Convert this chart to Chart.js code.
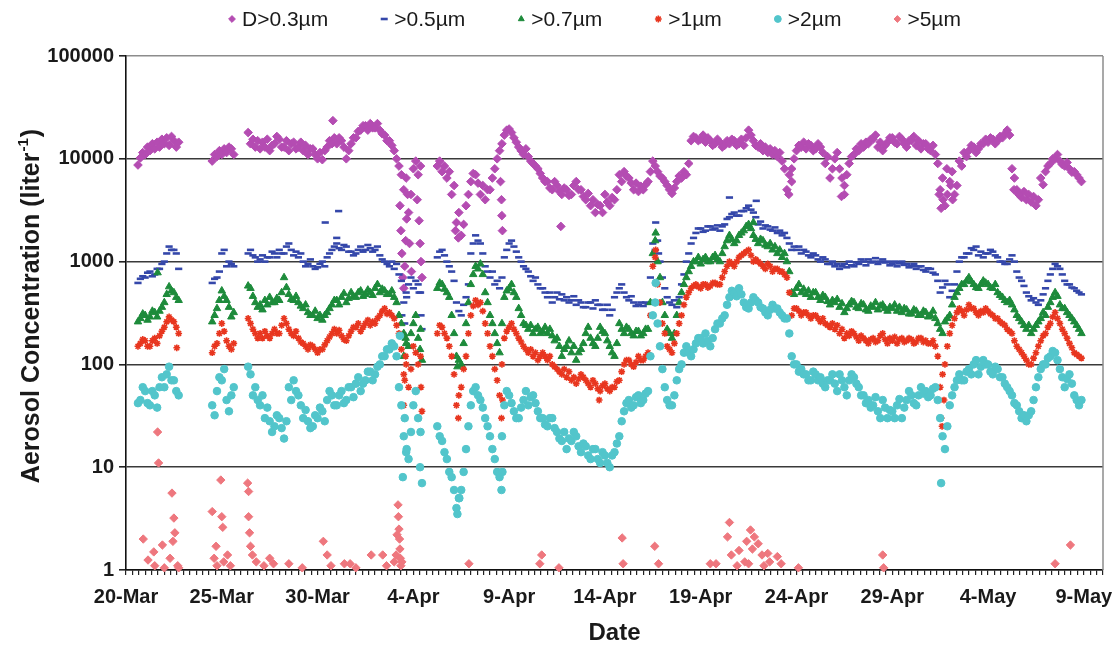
<!DOCTYPE html>
<html>
<head>
<meta charset="utf-8">
<title>Aerosol Concentration</title>
<script src="https://cdn.jsdelivr.net/npm/chart.js@4.4.1/dist/chart.umd.min.js"></script>
<style>
  html, body { margin: 0; padding: 0; background: #fff; }
  #contenedor { width: 1116px; height: 649px; }
</style>
</head>
<body>
<div id="contenedor"><canvas id="grafico" width="1116" height="649"></canvas></div>
<script>
// ==================== DATOS ====================

// Muestreo de las series: cada 3 horas (8 valores por día) desde el 20-Mar 00:00
const PASO_DIAS = 0.125;

// Eje X: días desde el 20-Mar y su etiqueta
const diasEtiqueta = [0, 5, 10, 15, 20, 25, 30, 35, 40, 45, 50];
const fechasEtiqueta = ['20-Mar', '25-Mar', '30-Mar', '4-Apr', '9-Apr', '14-Apr', '19-Apr', '24-Apr', '29-Apr', '4-May', '9-May'];

// Eje Y logarítmico
const decadasY = [1, 10, 100, 1000, 10000, 100000];

const nombresSeries = ['D>0.3µm', '>0.5µm', '>0.7µm', '>1µm', '>2µm', '>5µm'];

// Concentraciones (liter^-1), una fila por día
const conc03 = [
  // 20-Mar
  null, null, null, null, null, 8700, 10200, 11500,
  11000, 13000, 12000, 14000, 12500, 14500, 13000, 15500,
  14000, 16000, 13500, 16500, 15000, 13000, 14500, null,
  null, null, null, null, null, null, null, null,
  null, null, null, null, 9500, 11000, 10500, 12000,
  // 25-Mar
  11000, 12500, 11500, 13000, 12500, 11000, null, null,
  null, null, null, 18000, 14000, 15500, 13000, 15000,
  12500, 14500, 13000, 15500, 12000, 13500, 14000, 16500,
  15500, 13000, 13000, 15000, 12000, 14000, 14500, 12500,
  13000, 14500, 12000, 13500, 11000, 12500, 12500, 11000,
  // 30-Mar
  10000, 11500, 9800, 12000, 13000, 15000, 14000, 16000,
  14000, 16000, 15000, 13000, 10000, 12000, 14000, 16000,
  16000, 18500, 19000, 21000, 21000, 19000, 22000, 20000,
  20000, 22000, 19000, 17500, 17000, 15000, 15000, 13500,
  12000, 10000, 8500, 7000, 5000, 6500, 3000, 4500,
  // 4-Apr
  8000, 9500, 7000, 8500, null, null, null, null,
  null, null, 8500, 9500, 7500, 8500, 6500, 7500,
  4500, 5500, 2400, 3000, 1800, 2300, 3500, 4500,
  6000, 7200, 7000, 5800, 4500, 5500, 4000, 5000,
  5000, 6500, 8000, 10000, 12000, 14000, 17000, 19000,
  // 9-Apr
  19500, 18000, 16000, 14500, 13000, 12000, 11000, 12500,
  10500, 9500, 9000, 8500, 8000, 7200, 6500, 6000,
  6000, 5200, 5000, 6000, 5500, 4800, 4500, 5200,
  5000, 4400, 4500, 5500, 6000, 5000, 5000, 4300,
  4000, 4600, 3500, 4000, 3000, 3600, 3500, 3000,
  // 14-Apr
  4500, 3800, 3500, 4200, 4000, 5000, 7000, 6000,
  7500, 6800, 6500, 5800, 5000, 5800, 4800, 5400,
  5000, 5600, 6000, 7500, 9500, 8500, 7500, 6800,
  6500, 6000, 5500, 5000, 4600, 5200, 6000, 6800,
  6500, 7500, 7000, 9000, 15000, 16500, 16000, 15000,
  // 19-Apr
  15500, 17000, 14500, 16000, 15000, 13500, 14000, 15500,
  14500, 13000, 13500, 15000, 14000, 15500, 15000, 13500,
  14000, 15500, 13500, 16000, 19000, 17000, 15000, 13500,
  13000, 14000, 12000, 13000, 11500, 12500, 11000, 12000,
  10500, 11500, 9500, 8000, 5000, 7000, 8000, 10000,
  // 24-Apr
  12000, 13500, 13000, 14500, 12500, 14000, 13500, 12000,
  12500, 14000, 13000, 11500, 9000, 10500, 6500, 8000,
  10000, 11500, 8000, 6500, 4500, 7000, 9000, 10500,
  11000, 12500, 12000, 14000, 13000, 14500, 14000, 15500,
  15500, 17000, 13000, 14500, 12000, 13500, 14500, 16000,
  // 29-Apr
  16000, 14500, 14000, 16500, 15500, 14000, 13000, 15000,
  15000, 16500, 13500, 15000, 12500, 14000, 14000, 12500,
  12000, 13500, 11000, 9000, 5000, 6500, 3500, 4500,
  6000, 7500, 4500, 5500, 9500, 8500, 11500, 10500,
  12000, 13500, 13000, 11500, 12500, 14000, 14000, 15500,
  // 4-May
  14500, 16000, 15500, 14000, 15000, 16500, 16000, 17500,
  19000, 17000, 8000, 6500, 5000, 4600, 4200, 4800,
  4000, 4500, 3800, 4300, 3500, 4000, 6500, 5600,
  7500, 8500, 9000, 10000, 10000, 11000, 9500, 8800,
  8500, 9200, 8000, 7400, 7500, 7000, 6500, 6000
];

const conc05 = [
  // 20-Mar
  null, null, null, null, null, 620, 680, 720,
  700, 780, 800, 720, 750, 850, 850, 950,
  1000, 1200, 1400, 1300, 1300, 1200, 850, null,
  null, null, null, null, null, null, null, null,
  null, null, null, null, 620, 680, 700, 800,
  // 25-Mar
  1200, 1300, 900, 1000, 950, 900, null, null,
  null, null, null, 1200, 1300, 1150, 1100, 1000,
  1050, 1150, 1000, 1100, 1100, 1250, 1200, 1100,
  1300, 1200, 1200, 1400, 1500, 1300, 1150, 1250,
  1100, 1200, 1000, 900, 950, 1050, 900, 850,
  // 30-Mar
  880, 950, 1000, 900, 1100, 1200, 1300, 1400,
  1500, 1350, 1300, 1450, 1400, 1250, 1250, 1150,
  1200, 1300, 1400, 1250, 1300, 1450, 1350, 1250,
  1300, 1400, 1150, 1050, 1000, 950, 900, 1000,
  850, 950, 750, 650, 400, 500, 600, 700,
  // 4-Apr
  550, 650, 600, 500, null, null, null, null,
  null, null, 1100, 1250, 1300, 1150, 1000, 900,
  800, 650, 400, 330, 300, 380, 450, 600,
  1200, 1500, 1800, 1600, 1500, 1200, 900, 800,
  700, 800, 600, 650, 550, 700, 1100, 1300,
  // 9-Apr
  1500, 1600, 1400, 1250, 1100, 1000, 900, 850,
  800, 720, 650, 700, 600, 550, 550, 500,
  450, 500, 400, 450, 500, 430, 480, 420,
  450, 400, 420, 460, 380, 420, 400, 360,
  360, 400, 400, 350, 420, 380, 380, 340,
  // 14-Apr
  340, 380, 300, 340, 450, 500, 550, 600,
  500, 450, 420, 460, 400, 370, 380, 400,
  370, 400, 390, 700, 1500, 1300, 1600, 1000,
  700, 550, 450, 400, 380, 420, 360, 450,
  600, 750, 1000, 1200, 1500, 1700, 1900, 2100,
  // 19-Apr
  2100, 1950, 2000, 2200, 2200, 2050, 2100, 2250,
  2000, 2200, 2300, 2600, 2700, 2900, 3000, 2800,
  2800, 3100, 3100, 3300, 3500, 3200, 3000, 2700,
  2300, 2450, 2100, 2250, 2200, 2050, 2000, 2150,
  1900, 2000, 1800, 1900, 1700, 1500, 1300, 1400,
  // 24-Apr
  1300, 1400, 1200, 1300, 1250, 1150, 1100, 1200,
  1150, 1050, 1000, 1100, 1050, 950, 950, 1000,
  900, 950, 850, 900, 950, 880, 1000, 920,
  900, 980, 950, 1050, 1000, 920, 1050, 980,
  1000, 1080, 950, 1000, 1050, 980, 1000, 920,
  // 29-Apr
  950, 1000, 900, 960, 1000, 930, 950, 880,
  900, 950, 850, 900, 900, 830, 800, 860,
  850, 780, 750, 650, 500, 560, 650, 600,
  450, 520, 600, 800, 1000, 1100, 1100, 1200,
  1200, 1350, 1300, 1400, 1150, 1250, 1100, 1200,
  // 4-May
  1200, 1300, 1250, 1150, 1100, 1000, 1000, 950,
  950, 1050, 1150, 1000, 800, 700, 650, 580,
  500, 460, 420, 440, 400, 380, 420, 480,
  550, 650, 750, 850, 950, 900, 850, 750,
  650, 600, 600, 560, 550, 520, 500, 480
];

const conc07 = [
  // 20-Mar
  null, null, null, null, null, 260, 280, 310,
  300, 270, 290, 330, 320, 290, 330, 360,
  400, 480, 570, 520, 500, 450, 420, null,
  null, null, null, null, null, null, null, null,
  null, null, null, null, 260, 300, 350, 420,
  // 25-Mar
  520, 460, 420, 360, 290, 320, null, null,
  null, null, null, 580, 550, 460, 400, 360,
  380, 340, 420, 380, 450, 400, 400, 440,
  420, 500, 700, 560, 480, 430, 420, 460,
  400, 370, 350, 380, 320, 300, 300, 330,
  // 30-Mar
  280, 300, 270, 300, 320, 350, 380, 420,
  420, 380, 450, 490, 400, 440, 500, 460,
  450, 500, 520, 460, 480, 530, 500, 470,
  550, 600, 500, 540, 520, 480, 480, 520,
  450, 400, 300, 250, 200, 160, 150, 200,
  // 4-Apr
  250, 300, 180, 220, null, null, null, null,
  null, null, 550, 620, 600, 540, 500, 450,
  300, 200, 120, 110, 100, 160, 250, 400,
  600, 750, 900, 850, 950, 750, 500, 400,
  300, 250, 200, 160, 130, 250, 450, 520,
  // 9-Apr
  550, 600, 500, 450, 350, 300, 250, 240,
  220, 240, 200, 220, 230, 200, 210, 230,
  200, 220, 190, 170, 180, 150, 120, 140,
  150, 170, 130, 150, 110, 130, 140, 160,
  200, 230, 180, 160, 150, 180, 230, 210,
  // 14-Apr
  200, 170, 150, 130, 120, 160, 250, 220,
  200, 230, 220, 200, 190, 210, 210, 190,
  200, 220, 220, 400, 1200, 1600, 1000, 700,
  400, 300, 220, 200, 180, 200, 300, 400,
  500, 600, 700, 800, 900, 1000, 1000, 1100,
  // 19-Apr
  950, 1050, 1100, 1000, 1000, 1100, 1150, 1050,
  1000, 1200, 1400, 1600, 1800, 1650, 1500, 1600,
  1800, 1900, 2000, 2200, 2300, 2100, 1800, 1650,
  1500, 1650, 1600, 1450, 1400, 1500, 1300, 1400,
  1200, 1300, 1100, 1200, 1000, 800, 500, 480,
  // 24-Apr
  550, 600, 500, 540, 480, 520, 450, 500,
  500, 450, 420, 470, 450, 410, 380, 420,
  400, 430, 360, 390, 320, 350, 380, 410,
  400, 360, 350, 390, 380, 340, 330, 370,
  360, 400, 340, 370, 380, 350, 330, 360,
  // 29-Apr
  350, 380, 330, 360, 320, 350, 340, 310,
  310, 340, 330, 300, 300, 330, 320, 290,
  300, 330, 280, 250, 220, 200, 260, 280,
  300, 380, 450, 500, 550, 600, 600, 650,
  700, 640, 600, 560, 550, 600, 650, 620,
  // 4-May
  600, 560, 550, 600, 500, 470, 450, 420,
  400, 420, 380, 340, 300, 280, 260, 240,
  220, 240, 200, 220, 240, 260, 280, 320,
  300, 360, 400, 450, 500, 460, 380, 350,
  350, 320, 300, 280, 260, 240, 220, 200
];

const conc1 = [
  // 20-Mar
  null, null, null, null, null, 150, 160, 175,
  170, 150, 150, 170, 180, 160, 190, 210,
  230, 260, 290, 270, 260, 230, 200, null,
  null, null, null, null, null, null, null, null,
  null, null, null, null, 130, 150, 160, 200,
  // 25-Mar
  250, 210, 170, 150, 140, 160, null, null,
  null, null, null, 280, 250, 220, 200, 180,
  200, 180, 210, 190, 180, 200, 220, 200,
  200, 240, 280, 250, 220, 200, 190, 210,
  180, 165, 160, 150, 140, 155, 150, 140,
  // 30-Mar
  130, 140, 140, 155, 170, 185, 200, 220,
  200, 215, 190, 175, 170, 190, 210, 230,
  230, 250, 210, 230, 250, 270, 240, 260,
  250, 280, 300, 330, 350, 310, 320, 300,
  280, 240, 200, 140, 80, 100, 60, 90,
  // 4-Apr
  150, 130, 100, 120, null, null, null, null,
  null, null, 200, 240, 230, 200, 180, 150,
  120, 80, 40, 50, 60, 90, 120, 200,
  300, 370, 420, 380, 400, 330, 250, 200,
  150, 120, 90, 70, 50, 100, 180, 210,
  // 9-Apr
  230, 250, 220, 200, 180, 165, 150, 140,
  130, 140, 120, 130, 110, 120, 130, 120,
  110, 120, 100, 95, 90, 85, 80, 90,
  75, 85, 70, 75, 65, 72, 80, 75,
  70, 65, 60, 70, 65, 58, 55, 62,
  // 14-Apr
  65, 58, 55, 60, 60, 68, 70, 85,
  100, 110, 110, 100, 95, 105, 120, 110,
  110, 120, 130, 300, 900, 1100, 600, 400,
  250, 200, 150, 140, 130, 160, 200, 250,
  300, 380, 450, 500, 550, 580, 600, 570,
  // 19-Apr
  550, 600, 600, 560, 580, 620, 620, 600,
  600, 700, 800, 900, 1000, 950, 900, 1000,
  1100, 1150, 1200, 1250, 1300, 1150, 1000, 1050,
  1000, 950, 900, 850, 950, 900, 800, 850,
  850, 800, 800, 750, 700, 500, 300, 350,
  // 24-Apr
  350, 330, 300, 320, 320, 300, 280, 300,
  300, 280, 260, 280, 250, 240, 230, 250,
  220, 240, 200, 220, 180, 200, 190, 210,
  200, 185, 170, 190, 180, 170, 160, 175,
  180, 165, 170, 190, 200, 175, 160, 180,
  // 29-Apr
  170, 185, 160, 175, 180, 165, 170, 180,
  175, 160, 165, 180, 180, 165, 170, 160,
  160, 170, 150, 120, 60, 80, 100, 150,
  200, 240, 280, 320, 350, 330, 300, 340,
  380, 350, 350, 320, 300, 330, 320, 350,
  // 4-May
  330, 310, 300, 280, 280, 260, 250, 240,
  220, 210, 200, 170, 150, 140, 130, 120,
  110, 100, 100, 115, 130, 150, 170, 190,
  200, 230, 250, 290, 320, 280, 250, 220,
  200, 180, 160, 145, 130, 125, 120, 115
];

const conc2 = [
  // 20-Mar
  null, null, null, null, null, 42, 45, 60,
  55, 42, 40, 55, 50, 38, 60, 75,
  60, 80, 95, 70, 70, 55, 50, null,
  null, null, null, null, null, null, null, null,
  null, null, null, null, 40, 32, 55, 75,
  // 25-Mar
  70, 90, 45, 35, 50, 60, null, null,
  null, null, null, 95, 80, 50, 60, 45,
  40, 50, 30, 38, 28, 22, 25, 32,
  30, 24, 19, 28, 60, 45, 70, 55,
  50, 40, 30, 36, 28, 24, 25, 32,
  // 30-Mar
  30, 38, 35, 28, 45, 55, 50, 40,
  40, 50, 55, 42, 45, 60, 60, 48,
  65, 75, 55, 65, 70, 85, 85, 70,
  80, 95, 100, 120, 120, 140, 140, 160,
  150, 120, 60, 40, 20, 14, 12, 22,
  // 4-Apr
  40, 55, 30, 22, null, null, null, null,
  null, null, 25, 20, 18, 14, 12, 9,
  8, 6, 4, 5, 6, 9, 15, 25,
  40, 55, 60, 50, 45, 38, 30, 25,
  20, 15, 12, 9, 8, 20, 40, 55,
  // 9-Apr
  50, 42, 35, 30, 30, 38, 45, 55,
  40, 48, 50, 42, 35, 30, 30, 26,
  25, 30, 30, 24, 22, 19, 18, 22,
  15, 19, 18, 22, 20, 16, 14, 17,
  16, 13, 12, 15, 15, 12, 11, 14,
  // 14-Apr
  13, 11, 10, 13, 14, 17, 20, 28,
  35, 42, 45, 38, 40, 48, 50, 42,
  45, 52, 55, 120, 300, 400, 250, 150,
  90, 60, 45, 40, 40, 50, 70, 90,
  100, 130, 150, 130, 120, 140, 160, 180,
  // 19-Apr
  180, 160, 200, 170, 150, 180, 220, 250,
  250, 280, 300, 380, 450, 520, 500, 460,
  550, 480, 400, 360, 350, 400, 450, 420,
  400, 360, 350, 320, 300, 340, 380, 350,
  350, 320, 300, 280, 280, 200, 120, 100,
  // 24-Apr
  100, 85, 90, 80, 80, 70, 70, 85,
  80, 70, 75, 65, 60, 70, 70, 80,
  65, 55, 80, 70, 60, 50, 70, 80,
  75, 65, 60, 50, 50, 42, 45, 38,
  40, 48, 35, 30, 45, 38, 30, 36,
  // 29-Apr
  35, 30, 40, 46, 30, 38, 45, 55,
  50, 42, 40, 50, 60, 52, 55, 48,
  50, 58, 60, 45, 30, 20, 15, 25,
  40, 50, 60, 70, 80, 70, 70, 85,
  90, 80, 100, 110, 80, 95, 110, 100,
  // 4-May
  100, 85, 80, 95, 90, 75, 75, 65,
  60, 55, 50, 42, 40, 35, 30, 32,
  28, 32, 35, 45, 60, 75, 90, 100,
  100, 115, 120, 135, 130, 110, 90, 75,
  60, 72, 80, 65, 50, 45, 40, 45
];

// Lecturas sueltas fuera de la rejilla (caídas bruscas y picos) [día, valor]
const extras03 = [
  [10.8, 23500],
  [14.3, 3500], [14.35, 2000], [14.4, 1200], [14.45, 700], [14.5, 550], [14.55, 900],
  [14.6, 1600], [14.65, 2600], [14.7, 4500], [14.8, 1500], [14.9, 800],
  [15.2, 4000], [15.3, 2500], [15.35, 1500], [15.4, 1000], [15.45, 700],
  [17.2, 2000], [17.35, 1700],
  [19.55, 6000], [19.6, 4000], [19.62, 2800], [19.65, 2000],
  [22.7, 2200],
  [34.6, 4500], [34.75, 6000], [37.35, 4300], [37.5, 5500],
  [42.45, 4500], [42.55, 3300], [42.65, 4000], [42.85, 8000], [43.05, 5500], [43.15, 4000],
  [46.35, 5000], [46.6, 4500]
];
const extras05 = [
  [10.4, 2400], [11.0, 1700], [11.1, 3100],
  [14.4, 300], [14.45, 200], [14.55, 250], [14.65, 450],
  [15.3, 500], [15.4, 300], [15.45, 220],
  [27.65, 2400], [27.8, 1200], [31.5, 4200], [32.9, 3900]
];
const extras07 = [
  [1.65, 780], [14.5, 120], [14.6, 180], [15.35, 140], [15.45, 110],
  [17.3, 95], [27.65, 1900], [32.75, 2400]
];
const extras1 = [
  [2.65, 145], [14.5, 40], [14.55, 70], [14.6, 120], [15.4, 60], [15.45, 35],
  [17.35, 30], [19.6, 30], [19.65, 45], [24.7, 45], [27.65, 1300],
  [42.55, 30], [42.6, 25], [42.7, 45]
];
const extras2 = [
  [14.3, 190], [14.45, 8], [14.55, 30], [14.65, 15], [15.35, 10], [15.45, 7],
  [17.3, 3.5], [17.4, 5], [19.6, 6], [19.65, 9], [27.65, 620], [42.55, 7]
];

// >5µm: sólo las lecturas por encima de 1 [día, valor]
const puntos5 = [
  [0.9, 2.0], [1.15, 1.25], [1.45, 1.5], [1.5, 1.1], [1.65, 22], [1.7, 11], [1.9, 1.75],
  [2.0, 1.05], [2.3, 1.3], [2.4, 5.6], [2.45, 1.9], [2.5, 3.2], [2.55, 2.3], [2.7, 1.1], [2.75, 1.05],
  [4.5, 3.7], [4.6, 1.3], [4.7, 1.7], [4.75, 1.1], [4.95, 7.5], [5.0, 3.3], [5.05, 2.6],
  [5.1, 1.2], [5.3, 1.4], [5.45, 1.1],
  [6.35, 7.0], [6.4, 5.8], [6.4, 3.3], [6.45, 2.3], [6.5, 1.7], [6.6, 1.4], [6.8, 1.2],
  [7.2, 1.1], [7.5, 1.3], [7.7, 1.15], [8.5, 1.15], [9.2, 1.05], [10.3, 1.9], [10.5, 1.4],
  [10.7, 1.1], [11.4, 1.15], [11.7, 1.15], [12.0, 1.05], [12.8, 1.4], [13.4, 1.4], [13.6, 1.1],
  [14.0, 1.2], [14.1, 1.4], [14.15, 2.2], [14.2, 4.3], [14.22, 3.3], [14.25, 2.5], [14.28, 2.0],
  [14.3, 1.6], [14.32, 1.3], [14.35, 1.1], [14.4, 1.2],
  [17.9, 1.15], [21.6, 1.15], [21.7, 1.4], [22.6, 1.05],
  [25.9, 2.05], [25.95, 1.15], [27.6, 1.7], [27.8, 1.15], [30.5, 1.15], [30.8, 1.15],
  [31.4, 2.1], [31.5, 2.9], [31.6, 1.4], [31.9, 1.1], [32.0, 1.55], [32.3, 1.2], [32.4, 1.9],
  [32.5, 1.15], [32.6, 2.45], [32.7, 1.6], [32.8, 2.1], [33.0, 1.8], [33.2, 1.4], [33.3, 1.1],
  [33.5, 1.45], [33.6, 1.2], [34.0, 1.35], [34.2, 1.15], [35.1, 1.05],
  [39.5, 1.4], [39.55, 1.05], [48.5, 1.15], [49.3, 1.75]
];

// ==================== ESTILOS ====================

const FUENTE = "'Liberation Sans', Arial, Helvetica, sans-serif";
const COLOR_TEXTO = '#1a1a1a';

const estilosSerie = [
  { color: '#B44CB2', forma: 'rectRot', radio: 4.3, borde: 1 },
  { color: '#3447AA', forma: 'line', radio: 3.6, borde: 2.6 },
  { color: '#1D8B3B', forma: 'triangle', radio: 4.3, borde: 1 },
  { color: '#E8361F', forma: 'star', radio: 3.4, borde: 1.6 },
  { color: '#52C5CB', forma: 'circle', radio: 3.8, borde: 1 },
  { color: '#EE777E', forma: 'rectRot', radio: 4.2, borde: 1 }
];

// Leyenda: inicio, separación marcador-texto y hueco entre entradas
const LEYENDA_X0 = 232;
const LEYENDA_Y = 19;
const LEYENDA_TEXTO = 10;
const LEYENDA_HUECO = 56;

// ==================== CONSTRUCCIÓN DE SERIES ====================

function aPuntos(valores, extras) {
  const puntos = [];
  valores.forEach((v, i) => {
    if (v !== null) puntos.push({ x: i * PASO_DIAS, y: v });
  });
  (extras || []).forEach(([d, v]) => puntos.push({ x: d, y: v }));
  return puntos;
}

const datosSeries = [
  aPuntos(conc03, extras03),
  aPuntos(conc05, extras05),
  aPuntos(conc07, extras07),
  aPuntos(conc1, extras1),
  aPuntos(conc2, extras2),
  aPuntos([], puntos5)
];

function crearDataset(i) {
  const est = estilosSerie[i];
  return {
    label: nombresSeries[i],
    data: datosSeries[i],
    showLine: false,
    pointStyle: est.forma,
    pointRadius: est.radio,
    pointHoverRadius: est.radio,
    backgroundColor: est.color,
    borderColor: est.color,
    borderWidth: est.borde,
    // como en Excel, la última serie queda encima
    order: nombresSeries.length - i,
    clip: i === 5 ? false : 4
  };
}

// ==================== DECORACIÓN ====================

function dibujarLeyenda(chart) {
  const { ctx } = chart;
  let x = LEYENDA_X0;
  ctx.save();
  ctx.font = `21px ${FUENTE}`;
  ctx.textBaseline = 'middle';
  ctx.textAlign = 'left';
  chart.data.datasets.forEach((ds, i) => {
    const est = estilosSerie[i];
    ctx.fillStyle = est.color;
    ctx.strokeStyle = est.color;
    ctx.lineWidth = est.borde;
    Chart.helpers.drawPoint(ctx, {
      pointStyle: est.forma,
      radius: est.forma === 'line' ? 3.5 : 3.4,
      rotation: 0,
      borderWidth: est.borde
    }, x, LEYENDA_Y);
    ctx.fillStyle = COLOR_TEXTO;
    ctx.fillText(ds.label, x + LEYENDA_TEXTO, LEYENDA_Y + 1);
    x += LEYENDA_TEXTO + ctx.measureText(ds.label).width + LEYENDA_HUECO;
  });
  ctx.restore();
}

function dibujarTitulos(chart) {
  const { ctx, chartArea } = chart;
  ctx.save();
  ctx.fillStyle = COLOR_TEXTO;

  // Título eje X
  ctx.font = `bold 24px ${FUENTE}`;
  ctx.textAlign = 'center';
  ctx.textBaseline = 'middle';
  ctx.fillText('Date', (chartArea.left + chartArea.right) / 2, 633);

  // Título eje Y con exponente
  const base = 'Aerosol Concentration (liter';
  const exponente = '-1';
  const cierre = ')';
  ctx.translate(32, 306);
  ctx.rotate(-Math.PI / 2);
  ctx.textAlign = 'left';
  ctx.font = `bold 25px ${FUENTE}`;
  const wBase = ctx.measureText(base).width;
  const wCierre = ctx.measureText(cierre).width;
  ctx.font = `bold 15px ${FUENTE}`;
  const wExp = ctx.measureText(exponente).width;
  let x = -(wBase + wExp + wCierre + 2) / 2;
  ctx.font = `bold 25px ${FUENTE}`;
  ctx.fillText(base, x, 0);
  x += wBase + 1;
  ctx.font = `bold 15px ${FUENTE}`;
  ctx.fillText(exponente, x, -8);
  x += wExp + 1;
  ctx.font = `bold 25px ${FUENTE}`;
  ctx.fillText(cierre, x, 0);
  ctx.restore();
}

const pluginDecoracion = {
  id: 'decoracion',
  beforeDatasetsDraw(chart) {
    // borde derecho del área de trazado
    const { ctx, chartArea } = chart;
    ctx.save();
    ctx.strokeStyle = '#8c8c8c';
    ctx.lineWidth = 1.5;
    ctx.beginPath();
    ctx.moveTo(chartArea.right, chartArea.top);
    ctx.lineTo(chartArea.right, chartArea.bottom);
    ctx.stroke();
    ctx.restore();
  },
  afterDraw(chart) {
    dibujarLeyenda(chart);
    dibujarTitulos(chart);
  }
};

// ==================== GRÁFICO ====================

function etiquetaFecha(valor) {
  const i = diasEtiqueta.findIndex(d => Math.abs(d - valor) < 1e-6);
  return i >= 0 ? fechasEtiqueta[i] : '';
}

function crearGrafico() {
  const ctx = document.getElementById('grafico').getContext('2d');

  return new Chart(ctx, {
    type: 'scatter',
    data: {
      datasets: nombresSeries.map((_, i) => crearDataset(i))
    },
    options: {
      responsive: false,
      animation: false,
      events: [],
      layout: { padding: { top: 56, right: 13, left: 0, bottom: 0 } },
      plugins: {
        legend: { display: false },
        tooltip: { enabled: false }
      },
      scales: {
        x: {
          type: 'linear',
          min: 0,
          max: 51,
          afterBuildTicks: (eje) => {
            // marcas cada 8 horas
            const marcas = [];
            for (let k = 0; k <= 153; k++) marcas.push({ value: k / 3 });
            eje.ticks = marcas;
          },
          afterFit: (eje) => { eje.height = 79; },
          grid: {
            drawOnChartArea: false,
            drawTicks: true,
            tickLength: 5,
            color: '#222',
            tickColor: '#222',
            lineWidth: 1.2
          },
          border: { display: true, color: '#111', width: 1.6 },
          ticks: {
            autoSkip: false,
            maxRotation: 0,
            minRotation: 0,
            padding: 10,
            color: COLOR_TEXTO,
            font: { family: FUENTE, size: 20, weight: 'bold' },
            callback: etiquetaFecha
          }
        },
        y: {
          type: 'logarithmic',
          min: 1,
          max: 100000,
          afterBuildTicks: (eje) => {
            eje.ticks = decadasY.map(v => ({ value: v }));
          },
          afterFit: (eje) => { eje.width = 126; },
          grid: {
            color: (c) => (c.tick && c.tick.value === 100000 ? '#8c8c8c' : '#3a3a3a'),
            lineWidth: 1.6,
            drawTicks: true,
            tickLength: 7,
            tickColor: '#222'
          },
          border: { display: true, color: '#111', width: 1.6 },
          ticks: {
            padding: 5,
            color: COLOR_TEXTO,
            font: { family: FUENTE, size: 20, weight: 'bold' },
            callback: (v) => String(v)
          }
        }
      }
    },
    plugins: [pluginDecoracion]
  });
}

// ==================== INICIALIZACIÓN ====================

if (document.readyState === 'loading') {
  document.addEventListener('DOMContentLoaded', crearGrafico);
} else {
  crearGrafico();
}
</script>
</body>
</html>
